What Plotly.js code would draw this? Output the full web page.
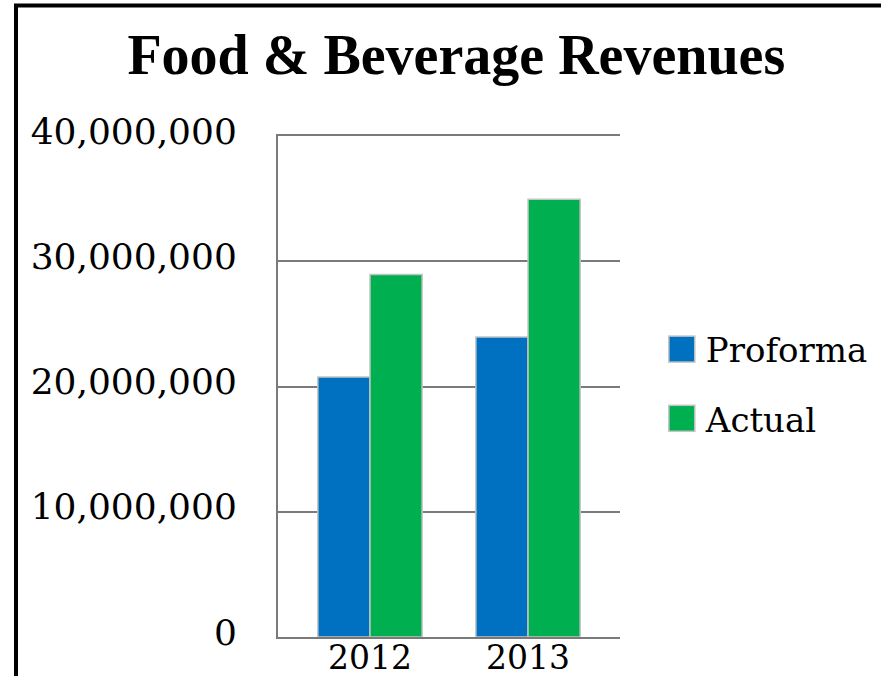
<!DOCTYPE html>
<html>
<head>
<meta charset="utf-8">
<script src="https://cdn.plot.ly/plotly-3.0.1.min.js"></script>
<style>
  html, body { margin: 0; padding: 0; background: #ffffff; }
  #chart { width: 881px; height: 676px; }
</style>
</head>
<body>
<div id="chart"></div>
<script>
const categories = ['2012', '2013'];
const proforma = [20750000, 23950000];
const actual = [28950000, 34950000];
const seriesNames = ['Proforma', 'Actual'];
const seriesColors = ['#0070C0', '#00B050'];
const yTickVals = [0, 10000000, 20000000, 30000000, 40000000];
const yTickText = ['0', '10,000,000', '20,000,000', '30,000,000', '40,000,000'];

const serif = 'DejaVu Serif, serif';
const barLine = { color: '#c4c4c4', width: 1.5 };

const traces = [
  { type: 'bar', name: seriesNames[0], x: categories, y: proforma,
    marker: { color: seriesColors[0], line: barLine }, legendgroup: 'a', hoverinfo: 'none' },
  { type: 'bar', name: seriesNames[1], x: categories, y: actual,
    marker: { color: seriesColors[1], line: barLine }, legendgroup: 'b', hoverinfo: 'none' }
];

const layout = {
  width: 881, height: 676,
  margin: { l: 278, r: 261, t: 136, b: 39, pad: 0, autoexpand: false },
  paper_bgcolor: '#ffffff', plot_bgcolor: '#ffffff',
  barmode: 'group', bargap: 0.34, bargroupgap: 0,
  showlegend: true,
  title: { text: 'Food & Beverage Revenues', x: 0.518, xanchor: 'center', y: 0.89, yanchor: 'bottom',
           font: { family: 'Liberation Serif, serif', size: 56, color: '#000000', weight: 'bold' } },
  xaxis: {
    type: 'category', range: [-0.582, 1.582],
    showgrid: false, showline: true, mirror: true, linecolor: '#7a7a7a', linewidth: 2,
    ticks: '', ticklabelstandoff: -10,
    tickfont: { family: serif, size: 33, color: '#000000' },
    fixedrange: true
  },
  yaxis: {
    range: [0, 40000000], tickvals: yTickVals, ticktext: yTickText,
    showgrid: true, gridcolor: '#7a7a7a', gridwidth: 2,
    showline: true, linecolor: '#7a7a7a', linewidth: 2,
    zeroline: false, ticks: '',
    ticklabelstandoff: 32, ticklabelshift: -5,
    tickfont: { family: serif, size: 36, color: '#000000' },
    fixedrange: true
  },
  legend: {
    x: 1.134, xanchor: 'left', y: 0.505, yanchor: 'middle',
    font: { family: serif, size: 34, color: '#000000' },
    tracegroupgap: 22, bgcolor: 'rgba(0,0,0,0)'
  },
  shapes: [
    { type: 'line', xref: 'paper', yref: 'paper', x0: (16 - 278) / 342, x1: (16 - 278) / 342,
      y0: (637 - 5) / 501, y1: (637 - 700) / 501, line: { color: '#000000', width: 4 } },
    { type: 'line', xref: 'paper', yref: 'paper', x0: (14 - 278) / 342, x1: (900 - 278) / 342,
      y0: (637 - 5.5) / 501, y1: (637 - 5.5) / 501, line: { color: '#000000', width: 4 } }
  ]
};

Plotly.newPlot('chart', traces, layout, { staticPlot: true, displayModeBar: false }).then(function () {
  const NS = 'http://www.w3.org/2000/svg';
  document.querySelectorAll('.legend .traces').forEach(function (g, i) {
    const pts = g.querySelector('.legendpoints');
    if (pts) pts.style.display = 'none';
    const r = document.createElementNS(NS, 'rect');
    r.setAttribute('x', '3');
    r.setAttribute('y', '-13');
    r.setAttribute('width', '26');
    r.setAttribute('height', '26');
    r.setAttribute('fill', seriesColors[i % seriesColors.length]);
    r.setAttribute('stroke', '#c4c4c4');
    r.setAttribute('stroke-width', '1.5');
    g.insertBefore(r, g.firstChild);
  });
});
</script>
</body>
</html>
